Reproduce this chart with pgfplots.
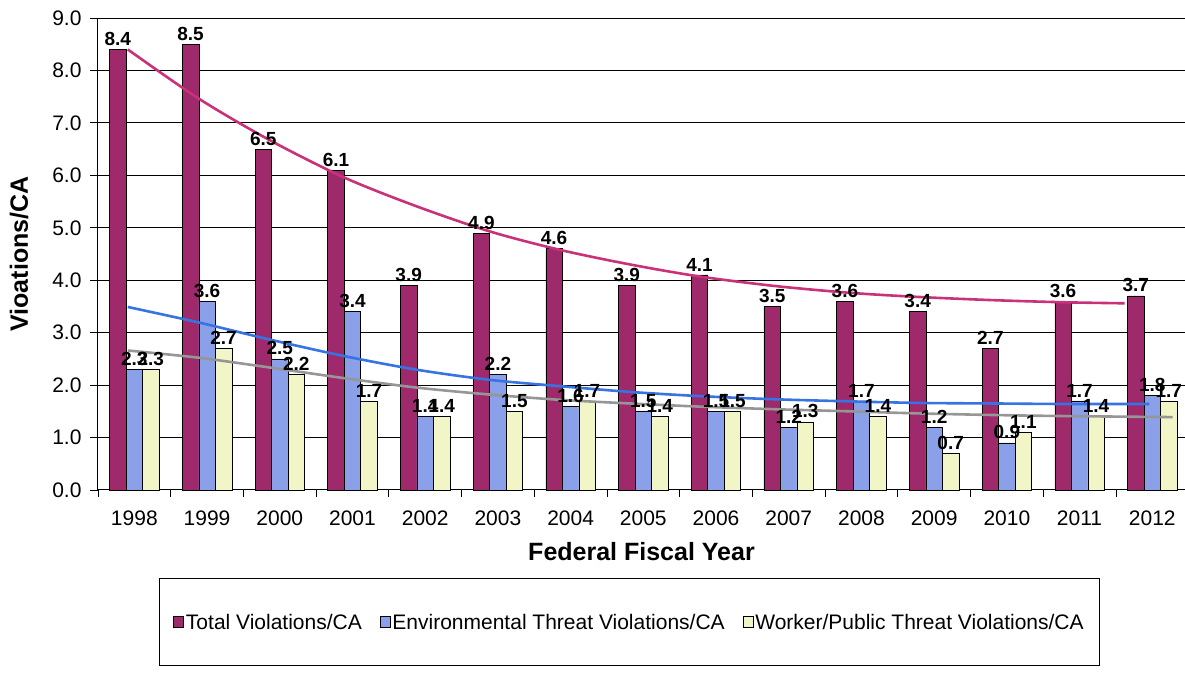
\documentclass[border=0pt]{standalone}
\usepackage{pgfplots}
\pgfplotsset{compat=1.18}
\usepackage{fontspec}
\setmainfont{Liberation Sans}
\definecolor{totc}{RGB}{158,42,108}
\definecolor{envc}{RGB}{138,160,232}
\definecolor{wrkc}{RGB}{242,245,198}
\definecolor{totl}{RGB}{200,50,120}
\definecolor{envl}{RGB}{55,115,225}
\definecolor{wrkl}{RGB}{150,150,150}
\begin{document}
\begin{tikzpicture}
\useasboundingbox (0,0) rectangle (1185pt,677pt);
\begin{axis}[
  at={(98pt,187pt)}, anchor=south west,
  scale only axis, width=1087pt, height=472pt,
  xmin=-0.5, xmax=14.45, ymin=0, ymax=9,
  clip=false,
  axis x line=bottom, axis y line=left,
  axis line style={-, line width=1pt},
  ybar=0pt, bar width=16.5pt,
  xtick={0,...,14},
  xticklabels={1998,1999,2000,2001,2002,2003,2004,2005,2006,2007,2008,2009,2010,2011,2012},
  minor xtick={-0.5,0.5,...,14.5},
  tick align=outside,
  major x tick style={draw=none},
  minor tick length=7pt, major tick length=8pt,
  tick style={black, line width=0.8pt},
  ytick={0,1,...,9},
  ymajorgrids, grid style={black, line width=1pt},
  /pgf/number format/assume math mode=true,
  yticklabel={\pgfmathprintnumber[fixed,fixed zerofill,precision=1]{\tick}},
  ticklabel style={font=\fontsize{21}{24}\selectfont},
  yticklabel style={xshift=-5pt},
  xticklabel style={yshift=-9pt},
  xlabel={\textbf{Federal Fiscal Year}},
  xlabel style={font=\fontsize{25}{28}\selectfont, yshift=-10pt},
  ylabel={\textbf{Vioations/CA}},
  ylabel style={font=\fontsize{25}{28}\selectfont, yshift=17pt},
  nodes near coords={\pgfmathprintnumber[fixed,fixed zerofill,precision=1]{\pgfplotspointmeta}},
  every node near coord/.append style={font=\bfseries\fontsize{19}{21}\selectfont, inner sep=3.5pt, /pgf/number format/assume math mode=true},
  legend columns=3,
  legend style={at={(0.489,-0.28)}, anchor=center, draw=black, line width=0.8pt,
    font=\fontsize{21}{24}\selectfont, inner xsep=14pt, inner ysep=33pt,
    /tikz/every even column/.append style={column sep=16pt}},
  legend image code/.code={\draw[#1, line width=0.6pt] (0pt,-5.5pt) rectangle (10pt,5.5pt);},
]
\addplot[fill=totc, draw=black, line width=0.6pt] coordinates {
 (0,8.4) (1,8.5) (2,6.5) (3,6.1) (4,3.9) (5,4.9) (6,4.6) (7,3.9) (8,4.1) (9,3.5) (10,3.6) (11,3.4) (12,2.7) (13,3.6) (14,3.7)};
\addplot[fill=envc, draw=black, line width=0.6pt] coordinates {
 (0,2.3) (1,3.6) (2,2.5) (3,3.4) (4,1.4) (5,2.2) (6,1.6) (7,1.5) (8,1.5) (9,1.2) (10,1.7) (11,1.2) (12,0.9) (13,1.7) (14,1.8)};
\addplot[fill=wrkc, draw=black, line width=0.6pt] coordinates {
 (0,2.3) (1,2.7) (2,2.2) (3,1.7) (4,1.4) (5,1.5) (6,1.7) (7,1.4) (8,1.5) (9,1.3) (10,1.4) (11,0.7) (12,1.1) (13,1.4) (14,1.7)};
\legend{Total Violations/CA, Environmental Threat Violations/CA, Worker/Public Threat Violations/CA}
\addplot[sharp plot, smooth, totl, line width=2.6pt, nodes near coords={}, forget plot] coordinates {
 (-0.09,8.4) (0.9,7.45) (1.89,6.65) (2.9,5.95) (3.9,5.4) (4.89,4.93) (5.85,4.58) (6.82,4.3) (7.78,4.07) (8.81,3.89) (9.84,3.76) (10.8,3.68) (11.81,3.62) (12.77,3.58) (13.62,3.56)};
\addplot[sharp plot, smooth, envl, line width=2.6pt, nodes near coords={}, forget plot] coordinates {
 (-0.09,3.49) (0.9,3.19) (1.89,2.86) (2.9,2.55) (3.9,2.29) (4.89,2.1) (5.85,1.98) (6.82,1.87) (7.78,1.79) (8.81,1.73) (9.84,1.69) (10.8,1.66) (11.81,1.65) (12.77,1.64) (13.96,1.64)};
\addplot[sharp plot, smooth, wrkl, line width=2.6pt, nodes near coords={}, forget plot] coordinates {
 (-0.09,2.66) (0.9,2.52) (1.89,2.33) (2.9,2.13) (3.9,1.95) (4.89,1.82) (5.85,1.72) (6.82,1.65) (7.78,1.59) (8.81,1.54) (9.84,1.5) (10.8,1.46) (11.81,1.43) (12.77,1.41) (14.28,1.39)};
\end{axis}
\end{tikzpicture}
\end{document}
